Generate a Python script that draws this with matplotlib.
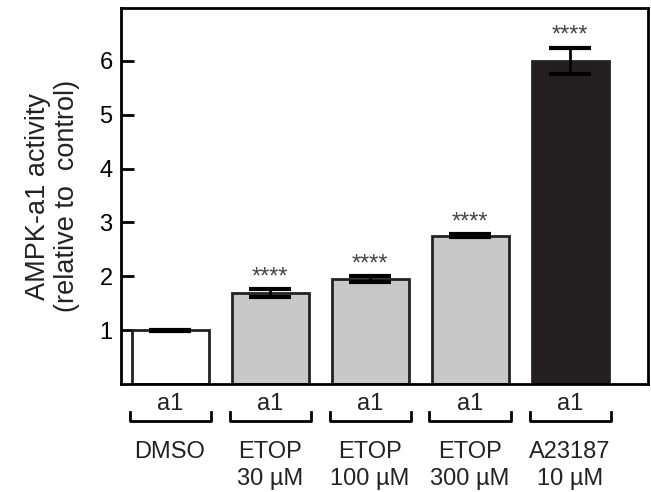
import numpy as np
import matplotlib.pyplot as plt
import matplotlib.transforms as mtransforms

plt.rcParams['font.family'] = ['Liberation Sans', 'DejaVu Sans']

# data
groups = ["DMSO", "ETOP", "ETOP", "ETOP", "A23187"]
doses = ["", "30 µM", "100 µM", "300 µM", "10 µM"]
isoform = ["a1", "a1", "a1", "a1", "a1"]
values = [1.0, 1.69, 1.95, 2.75, 6.0]
errors = [0.01, 0.07, 0.05, 0.03, 0.24]
stars = ["", "****", "****", "****", "****"]
colors = ["white", "#c8c8c8", "#c8c8c8", "#c8c8c8", "#231f20"]


def main():
    fig = plt.figure(figsize=(6.51, 4.92), dpi=100)
    ax = fig.add_subplot(111)
    fig.subplots_adjust(left=121/651, right=648/651, top=1-8/492, bottom=1-384/492)

    x = np.arange(len(values))
    width = 0.77
    ax.bar(x, values, width=width, color=colors, edgecolor="#222222", linewidth=2, zorder=2)
    ax.errorbar(x, values, yerr=errors, fmt="none", ecolor="black", elinewidth=2,
                capsize=15, capthick=3, zorder=3)

    # significance marks
    for xi, v, e, s in zip(x, values, errors, stars):
        if s:
            ax.text(xi, v + e + 0.02, s, ha="center", va="bottom", fontsize=17, color="#444444")

    ax.set_xlim(-0.49, 4.78)
    ax.set_ylim(0, 6.98)
    ax.set_xticks([])
    ax.set_yticks([1, 2, 3, 4, 5, 6])
    ax.tick_params(axis="y", direction="in", length=9, width=2, labelsize=17, pad=6)
    for sp in ax.spines.values():
        sp.set_linewidth(2)
        sp.set_color("black")

    ax.set_ylabel("AMPK-a1 activity\n(relative to  control)", fontsize=19.5, color="#222222",
                  labelpad=14, linespacing=1.15)

    # labels under the axes
    trans = mtransforms.blended_transform_factory(ax.transData, ax.transAxes)
    bw = 0.81
    for xi, iso, g, d in zip(x, isoform, groups, doses):
        ax.text(xi, -0.054, iso, transform=trans, ha="center", va="center", fontsize=17,
                color="#222222", clip_on=False)
        ax.plot([xi - bw/2, xi - bw/2, xi + bw/2, xi + bw/2], [-0.075, -0.098, -0.098, -0.075],
                transform=trans, color="black", lw=2, clip_on=False)
        ax.text(xi, -0.18, g, transform=trans, ha="center", va="center", fontsize=17,
                color="#222222", clip_on=False)
        if d:
            ax.text(xi, -0.253, d, transform=trans, ha="center", va="center", fontsize=17,
                    color="#222222", clip_on=False)

    fig.savefig("out.png")


if __name__ == '__main__':
    main()
